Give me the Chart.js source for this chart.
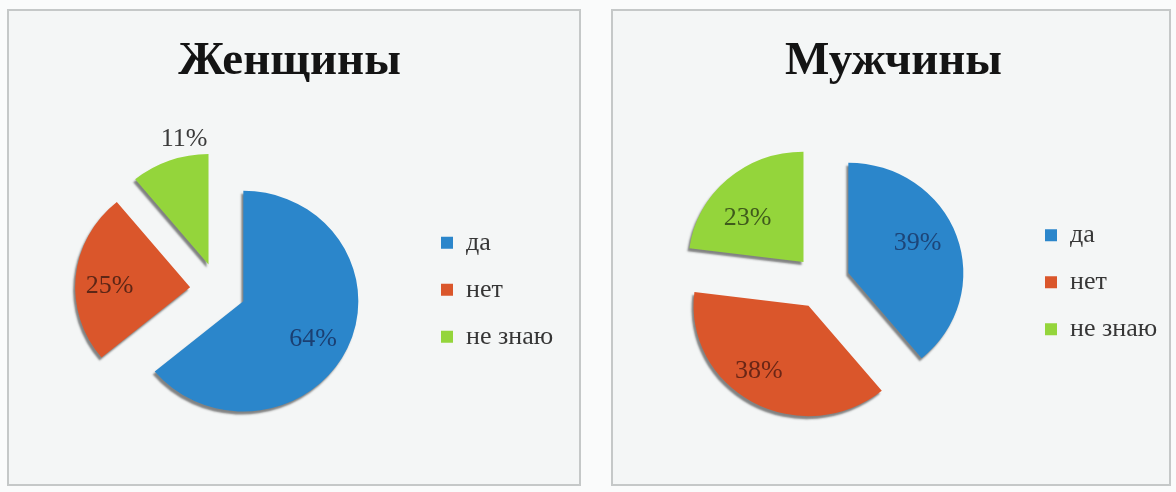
<!DOCTYPE html>
<html>
<head>
<meta charset="utf-8">
<script src="https://cdn.jsdelivr.net/npm/chart.js@4.4.1/dist/chart.umd.min.js"></script>
<style>
  body { margin: 0; width: 1176px; height: 492px; background: #fafbfb; position: relative; overflow: hidden; }
  .panel { position: absolute; top: 9px; height: 477px; box-sizing: border-box; border: 2px solid #c5c8c8; background: #f4f6f6; }
  #panelW { left: 7px; width: 574px; }
  #panelM { left: 611px; width: 560px; }
  .panel canvas { display: block; }
</style>
</head>
<body>
<div class="panel" id="panelW"><canvas id="womenPie"></canvas></div>
<div class="panel" id="panelM"><canvas id="menPie"></canvas></div>
<script>
const answers = ["да", "нет", "не знаю"];
const womenShare = [64, 25, 11];
const menShare = [39, 38, 23];

const sliceColors = ["#2b86cb", "#da562b", "#94d53b"];
const womenLabelColors = ["#1b3f72", "#5c2616", "#3a3a3a"];
const menLabelColors = ["#1d4578", "#6a2616", "#3f5a1c"];

// where each % label sits: [fraction of the slice angle, fraction of radius]
const womenLabelPos = [[0.52, 0.70], [0.45, 0.70], [0.73, 1.15]];
const menLabelPos = [[0.47, 0.66], [0.555, 0.73], [0.39, 0.63]];

const serif = "'Liberation Serif', 'Times New Roman', serif";
const legendFontSize = 26;
const legendGap = 21;
const legendBox = 12;
const pieRadius = 115;
const pieCenterX = 209;   // inside the canvas
const explodeBy = 28;
const tilt = 0.96;        // slight squash, the pie is seen a little from above

// pushes every slice outward along its middle angle, keeps the radius
const explodePlugin = {
  id: "explode",
  afterDatasetUpdate(chart, args) {
    chart.getDatasetMeta(args.index).data.forEach(arc => {
      const mid = (arc.startAngle + arc.endAngle) / 2;
      arc.x += Math.cos(mid) * explodeBy;
      arc.y += Math.sin(mid) * explodeBy;
    });
  },
  beforeDatasetsDraw(chart) {
    const ctx = chart.ctx;
    const cy = (chart.chartArea.top + chart.chartArea.bottom) / 2;
    ctx.save();
    ctx.translate(0, cy);
    ctx.scale(1, tilt);
    ctx.translate(0, -cy);
    ctx.shadowColor = "rgba(35,35,35,0.55)";
    ctx.shadowOffsetX = -2;
    ctx.shadowOffsetY = 3;
    ctx.shadowBlur = 2;
  },
  afterDatasetsDraw(chart, args, opts) {
    const ctx = chart.ctx;
    ctx.restore();
    const cy = (chart.chartArea.top + chart.chartArea.bottom) / 2;
    const ds = chart.data.datasets[0];
    ctx.save();
    ctx.font = legendFontSize + "px " + serif;
    ctx.textAlign = "center";
    ctx.textBaseline = "middle";
    chart.getDatasetMeta(0).data.forEach((arc, i) => {
      const [f, r] = opts.pos[i];
      const a = arc.startAngle + (arc.endAngle - arc.startAngle) * f;
      const rr = arc.outerRadius * r;
      const y = arc.y + Math.sin(a) * rr;
      ctx.fillStyle = opts.colors[i];
      ctx.fillText(ds.data[i] + "%", arc.x + Math.cos(a) * rr, cy + (y - cy) * tilt);
    });
    ctx.restore();
  }
};

function legendRightPad(canvasWidth) {
  const m = document.createElement("canvas").getContext("2d");
  m.font = legendFontSize + "px " + serif;
  const textW = Math.max(...answers.map(t => m.measureText(t).width));
  const chartRight = 2 * pieCenterX - 7;
  const legendW = legendGap + legendBox + legendFontSize / 2 + textW + 10;
  return Math.max(canvasWidth - chartRight - legendW, 0);
}

function makePie(id, title, values, labelColors, labelPos, canvasWidth, padBottom) {
  return new Chart(id, {
    type: "pie",
    data: {
      labels: answers,
      datasets: [{
        data: values,
        backgroundColor: sliceColors,
        borderWidth: 0
      }]
    },
    plugins: [explodePlugin],
    options: {
      responsive: true,
      maintainAspectRatio: false,
      animation: false,
      events: [],
      radius: pieRadius,
      layout: { padding: { left: 7, right: legendRightPad(canvasWidth), top: 0, bottom: padBottom } },
      plugins: {
        title: {
          display: true,
          text: title,
          color: "#141414",
          font: { family: serif, size: 47, weight: "bold" },
          padding: { top: 23, bottom: 7 }
        },
        legend: {
          position: "right",
          fullSize: false,
          labels: {
            boxWidth: legendBox,
            boxHeight: legendBox,
            padding: legendGap,
            color: "#363636",
            font: { family: serif, size: legendFontSize }
          }
        },
        tooltip: { enabled: false },
        explode: { colors: labelColors, pos: labelPos }
      }
    }
  });
}

makePie("womenPie", "Женщины", womenShare, womenLabelColors, womenLabelPos, 570, 2);
makePie("menPie", "Мужчины", menShare, menLabelColors, menLabelPos, 556, 17);
</script>
</body>
</html>
